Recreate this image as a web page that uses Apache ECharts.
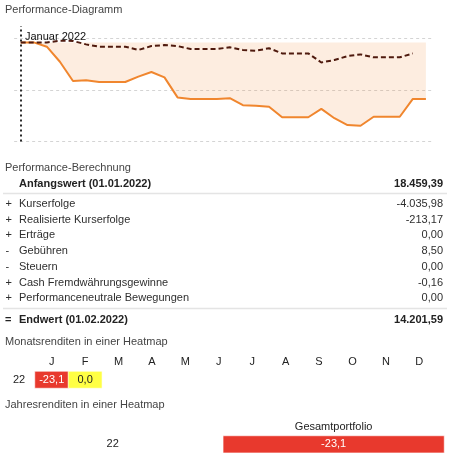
<!DOCTYPE html>
<html><head><meta charset="utf-8">
<script src="https://cdn.jsdelivr.net/npm/echarts/dist/echarts.min.js"></script>
<style>html,body{margin:0;padding:0;background:#fff}#c{width:453px;height:459px}</style>
</head><body><div id="c"></div><script>
// ---- data ----
const days = ['01.01.','02.01.','03.01.','04.01.','05.01.','06.01.','07.01.','08.01.','09.01.','10.01.','11.01.','12.01.','13.01.','14.01.','15.01.','16.01.','17.01.','18.01.','19.01.','20.01.','21.01.','22.01.','23.01.','24.01.','25.01.','26.01.','27.01.','28.01.','29.01.','30.01.','31.01.','01.02.'];
const portfolio = [0,0,-1.75,-7.9,-15.8,-15.5,-16.2,-16.2,-16.2,-14.0,-12.1,-14.3,-22.5,-23.1,-23.1,-23.1,-22.8,-25.7,-25.9,-26.3,-30.6,-30.6,-30.6,-27.2,-31.0,-33.8,-34.1,-30.4,-30.4,-30.4,-23.1,-23.1];
const benchmark = [0,0,0,0.7,0.6,-0.8,-1.75,-1.75,-1.75,-3.1,-1.5,-1.1,-1.5,-2.7,-2.7,-2.7,-2.0,-3.1,-3.4,-2.4,-4.5,-4.5,-4.5,-8.2,-7.2,-5.6,-4.9,-6.1,-6.1,-6.1,-4.5,null];
const markerLabel = 'Januar 2022';

const startLabel = 'Anfangswert (01.01.2022)';
const startValue = '18.459,39';
const calcSigns = ['+','+','+','-','-','+','+'];
const calcLabels = ['Kurserfolge','Realisierte Kurserfolge','Erträge','Gebühren','Steuern','Cash Fremdwährungsgewinne','Performanceneutrale Bewegungen'];
const calcValues = ['-4.035,98','-213,17','0,00','8,50','0,00','-0,16','0,00'];
const endLabel = 'Endwert (01.02.2022)';
const endValue = '14.201,59';

const months = ['J','F','M','A','M','J','J','A','S','O','N','D'];
const monthYears = ['22'];
const monthReturns = [-23.1, 0.0];
const yearCols = ['Gesamtportfolio'];
const yearRows = ['22'];
const yearReturns = [-23.1];

// ---- render ----
const FONT = '"Liberation Sans", Arial, Helvetica, sans-serif';
const txt = (text, x, y, opt) => Object.assign({
  type: 'text', x: x, y: y, z: 100,
  style: Object.assign({text: text, font: '11px ' + FONT, fill: '#2e2e2e', textAlign: 'left', textVerticalAlign: 'middle'}, opt || {})
});
const fmt = v => v.toFixed(1).replace('.', ',');

const graphics = [];
graphics.push(txt('Performance-Diagramm', 5, 10, {fill: '#444'}));
graphics.push(txt(markerLabel, 25, 37, {fill: '#111'}));
graphics.push(txt('Performance-Berechnung', 5, 167.5, {fill: '#444'}));
graphics.push(txt(startLabel, 19, 184, {font: 'bold 11px ' + FONT, fill: '#222'}));
graphics.push(txt(startValue, 443, 184, {font: 'bold 11px ' + FONT, fill: '#222', textAlign: 'right'}));
graphics.push({type: 'line', z: 100, shape: {x1: 3, y1: 193.5, x2: 447, y2: 193.5}, style: {stroke: '#e4e4e4', lineWidth: 1.5}});
calcLabels.forEach((l, i) => {
  const y = 204 + i * 15.72;
  graphics.push(txt(calcSigns[i], 5.5, y));
  graphics.push(txt(l, 19, y));
  graphics.push(txt(calcValues[i], 443, y, {textAlign: 'right'}));
});
graphics.push({type: 'line', z: 100, shape: {x1: 3, y1: 308.5, x2: 447, y2: 308.5}, style: {stroke: '#e4e4e4', lineWidth: 1.5}});
graphics.push(txt('=', 5, 319.5, {font: 'bold 11px ' + FONT, fill: '#222'}));
graphics.push(txt(endLabel, 19, 319.5, {font: 'bold 11px ' + FONT, fill: '#222'}));
graphics.push(txt(endValue, 443, 319.5, {font: 'bold 11px ' + FONT, fill: '#222', textAlign: 'right'}));
graphics.push(txt('Monatsrenditen in einer Heatmap', 5, 342, {fill: '#444'}));
graphics.push(txt('Jahresrenditen in einer Heatmap', 5, 405, {fill: '#444'}));

const hidden = {axisLine: {show: false}, axisTick: {show: false}, axisLabel: {show: false}, splitLine: {show: false}};
const cellData = (vals) => vals.map((v, i) => ({value: [i, 0, v], label: {color: v < -10 ? '#fff' : '#222'}}));

const chart = echarts.init(document.getElementById('c'));
chart.setOption({
  animation: false,
  textStyle: {fontFamily: FONT},
  grid: [
    {left: 14.15, width: 418.3, top: 26, height: 115.5},
    {left: 35, width: 401, top: 371.5, height: 16.5},
    {left: 223.3, width: 220.7, top: 436, height: 16.7}
  ],
  xAxis: [
    Object.assign({type: 'category', gridIndex: 0, data: days, boundaryGap: true}, hidden),
    {type: 'category', gridIndex: 1, data: months, position: 'top',
     axisLine: {show: false}, axisTick: {show: false}, splitLine: {show: false},
     axisLabel: {margin: 4, fontSize: 11, color: '#222', fontFamily: FONT}},
    {type: 'category', gridIndex: 2, data: yearCols, position: 'top',
     axisLine: {show: false}, axisTick: {show: false}, splitLine: {show: false},
     axisLabel: {margin: 4, fontSize: 11, color: '#222', fontFamily: FONT}}
  ],
  yAxis: [
    Object.assign({type: 'value', gridIndex: 0, min: -40.53, max: 6.71}, hidden),
    {type: 'value', gridIndex: 0, min: 0, max: 2.238, interval: 1,
     axisLine: {show: false}, axisTick: {show: false}, axisLabel: {show: false},
     splitLine: {show: true, showMinLine: true, showMaxLine: false, lineStyle: {color: '#d4d4d4', type: [3, 3], width: 1}}},
    {type: 'category', gridIndex: 1, data: monthYears,
     axisLine: {show: false}, axisTick: {show: false}, splitLine: {show: false},
     axisLabel: {margin: 16, align: 'center', fontSize: 11, color: '#222', fontFamily: FONT}},
    {type: 'category', gridIndex: 2, data: yearRows,
     axisLine: {show: false}, axisTick: {show: false}, splitLine: {show: false},
     axisLabel: {margin: 110.6, align: 'center', fontSize: 11, color: '#222', fontFamily: FONT}}
  ],
  visualMap: {show: false, seriesIndex: [2, 3], min: -23.1, max: 23.1, dimension: 2,
    inRange: {color: ['#e8392d', '#ffff44', '#2fb34a']}},
  series: [
    {type: 'line', name: 'Portfolio', xAxisIndex: 0, yAxisIndex: 0, data: portfolio,
     symbol: 'none', lineStyle: {color: '#f0862e', width: 2}, itemStyle: {color: '#f0862e'},
     areaStyle: {origin: 0, color: 'rgba(240,134,46,0.21)'}, z: 2,
     markLine: {silent: true, symbol: ['none', 'none'], label: {show: false},
       lineStyle: {color: '#2a2a2a', type: [2, 3], width: 2},
       data: [{xAxis: days[0]}]}},
    {type: 'line', name: 'Benchmark', xAxisIndex: 0, yAxisIndex: 0, data: benchmark,
     symbol: 'none', lineStyle: {color: '#4f1a0e', width: 2, type: [5, 3]}, itemStyle: {color: '#4f1a0e'}, z: 3},
    {type: 'heatmap', xAxisIndex: 1, yAxisIndex: 2, data: cellData(monthReturns),
     itemStyle: {borderColor: 'rgba(255,255,255,0.6)', borderWidth: 1},
     label: {show: true, fontSize: 11, fontFamily: FONT, formatter: p => fmt(p.value[2])}},
    {type: 'heatmap', xAxisIndex: 2, yAxisIndex: 3, data: cellData(yearReturns),
     itemStyle: {borderColor: 'rgba(255,255,255,0.6)', borderWidth: 1},
     label: {show: true, fontSize: 11, fontFamily: FONT, formatter: p => fmt(p.value[2])}}
  ],
  graphic: graphics
});
</script></body></html>
